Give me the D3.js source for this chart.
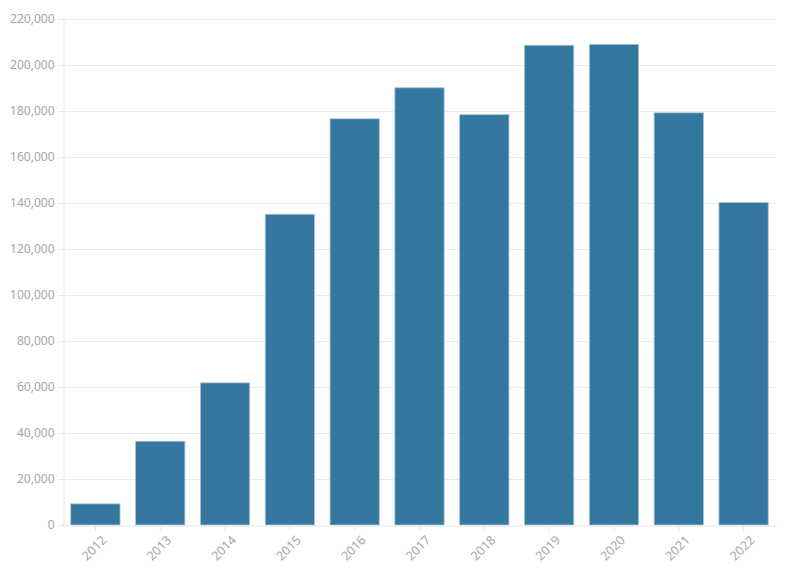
<!DOCTYPE html>
<html><head><meta charset="utf-8">
<script src="https://cdn.jsdelivr.net/npm/d3@7"></script>
<style>body{margin:0;background:#fff}svg{display:block}</style>
</head><body>
<svg id="c" width="796" height="575"></svg>
<script>
const years = ["2012","2013","2014","2015","2016","2017","2018","2019","2020","2021","2022"];
const values = [9200, 36400, 61800, 135100, 176600, 190100, 178400, 208600, 209000, 179200, 140200];
const yTicks = [0,20000,40000,60000,80000,100000,120000,140000,160000,180000,200000,220000];

const svg = d3.select("#c");
const m = {l:63, r:20, t:19, b:50};
const W = 796, H = 575;
const x = d3.scaleBand().domain(years).range([m.l, W-m.r]).paddingInner(0.24).paddingOuter(0.12);
const y = d3.scaleLinear().domain([0,220000]).range([H-m.b, m.t]);
const font = "'Noto Sans', 'Open Sans', sans-serif";

// grid
svg.append("g").selectAll("line").data(yTicks.filter(d=>d>0)).join("line")
  .attr("x1", m.l).attr("x2", W-m.r).attr("y1", d=>y(d)+0.5).attr("y2", d=>y(d)+0.5)
  .attr("stroke", "#ececec").attr("stroke-width", 1);

// y axis
const ya = svg.append("g").attr("transform", `translate(${m.l+0.5},0)`)
  .call(d3.axisLeft(y).tickValues(yTicks).tickFormat(d3.format(",")).tickSize(5).tickPadding(4));
ya.select(".domain").attr("stroke", "#e6e6e6");
ya.selectAll(".tick line").attr("stroke", "#e6e6e6");
ya.selectAll("text").attr("fill", "#a6a6a6").style("font-family", font).style("font-size", "12px");

// bars
svg.append("g").selectAll("rect").data(years).join("rect")
  .attr("x", d=>x(d)).attr("width", x.bandwidth())
  .attr("y", (d,i)=>y(values[i])).attr("height", (d,i)=>y(0)-y(values[i]))
  .attr("fill", "#34779f").attr("stroke", "#a9c4d6").attr("stroke-width", 0.8);

// x axis
const xa = svg.append("g").attr("transform", `translate(0,${H-m.b+0.5})`)
  .call(d3.axisBottom(x).tickSize(5).tickSizeOuter(0).tickPadding(5));
xa.select(".domain").attr("stroke", "#e6e6e6");
xa.selectAll(".tick line").attr("stroke", "#e6e6e6");
xa.selectAll("text").attr("fill", "#a6a6a6").style("font-family", font).style("font-size", "12.5px")
  .attr("text-anchor", "end").attr("dx", "-0.2em").attr("dy", "0.75em")
  .attr("transform", "rotate(-45)");
</script>
</body></html>
